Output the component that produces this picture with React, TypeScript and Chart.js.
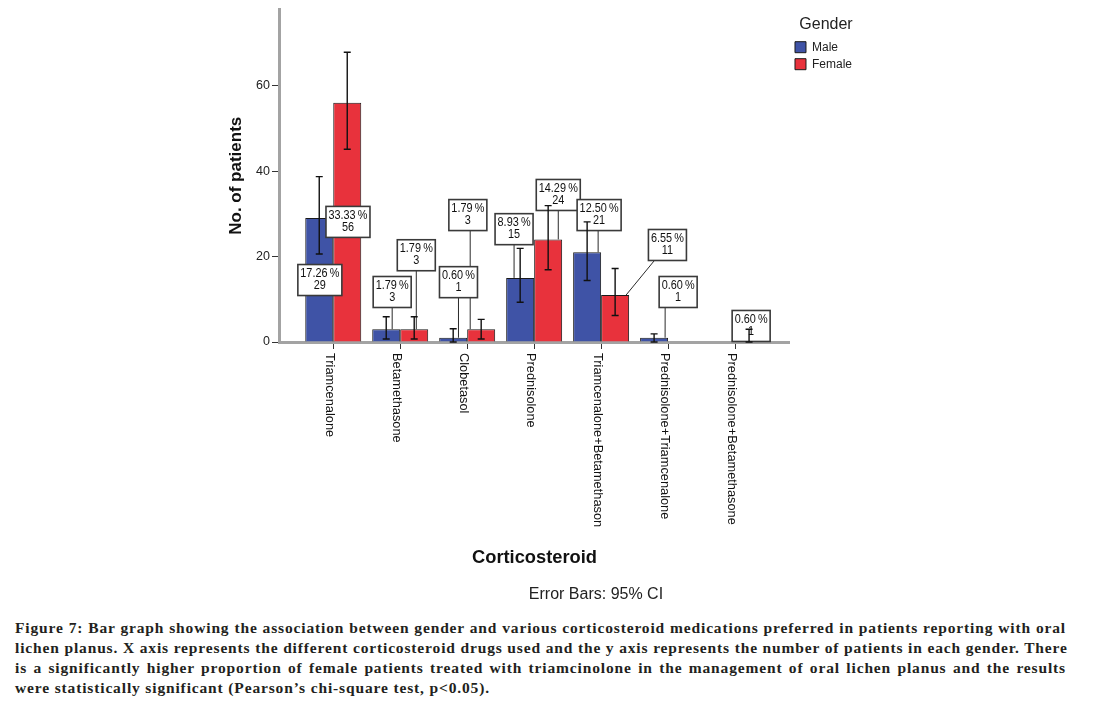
import React, { useEffect, useRef } from 'react';
import { Chart, registerables } from 'chart.js';

Chart.register(...registerables);

// ---------- data ----------
const categories = [
  'Triamcenalone',
  'Betamethasone',
  'Clobetasol',
  'Prednisolone',
  'Triamcenalone+Betamethason',
  'Prednisolone+Triamcenalone',
  'Prednisolone+Betamethasone',
];
const seriesNames = ['Male', 'Female'];
const maleCounts = [29, 3, 1, 15, 21, 1, 0];
const femaleCounts = [56, 3, 3, 24, 11, 0, 1];
// 95% CI (error bars)
const maleCILow = [20.6, 0.7, 0, 9.3, 14.4, 0, null];
const maleCIHigh = [38.7, 5.9, 3.1, 21.9, 28.1, 1.9, null];
const femaleCILow = [45.1, 0.7, 0.7, 16.9, 6.2, null, 0];
const femaleCIHigh = [67.8, 5.9, 5.3, 31.9, 17.2, null, 3.0];
const yTickValues = [0, 20, 40, 60];

// ---------- layout of the callout boxes (data units: category offset, value) ----------
const maleCalloutAt: (number[] | null)[] = [
  [-0.2, 14.5], [0.88, 11.7], [1.87, 14.0], [2.7, 26.4], [3.97, 29.7], [5.15, 11.7], null,
];
const femaleCalloutAt: (number[] | null)[] = [
  [0.22, 28.1], [1.24, 20.3], [2.01, 29.7], [3.36, 34.4], [4.99, 22.7], null, [6.24, 3.75],
];

const SANS = '"Liberation Sans", Arial, Helvetica, sans-serif';
const MALE_COLOR = '#3F53A6';
const FEMALE_COLOR = '#E8323C';

const overlayPlugin = {
  id: 'overlay',
  afterDatasetsDraw(chart: any) {
    const ctx = chart.ctx;
    const xs = chart.scales.x;
    const ys = chart.scales.y;
    const total = [...maleCounts, ...femaleCounts].reduce((a, b) => a + b, 0);
    const series = [
      { counts: maleCounts, at: maleCalloutAt, lo: maleCILow, hi: maleCIHigh, meta: chart.getDatasetMeta(0) },
      { counts: femaleCounts, at: femaleCalloutAt, lo: femaleCILow, hi: femaleCIHigh, meta: chart.getDatasetMeta(1) },
    ];
    const SX = 0.87;
    ctx.save();
    ctx.font = `12.5px ${SANS}`;
    const boxes: any[] = [];
    categories.forEach((_, i) => {
      series.forEach((s) => {
        const v = s.counts[i];
        const p = s.at[i];
        if (!p || !v) return;
        const el = s.meta.data[i];
        const pct = `${((v / total) * 100).toFixed(2)}\u2009%`;
        const cnt = String(v);
        const tw = Math.max(ctx.measureText(pct).width, ctx.measureText(cnt).width) * SX;
        const w = Math.round(tw + 5);
        const h = 31;
        const cx = xs.getPixelForValue(p[0]);
        const cy = ys.getPixelForValue(p[1]);
        boxes.push({
          pct, cnt, w, h,
          left: cx - w / 2, top: cy - h / 2, cx, cy,
          barX: el.x, barTop: el.y, barHalf: el.width / 2,
        });
      });
    });
    // leaders
    ctx.strokeStyle = '#2a2a2a';
    ctx.lineWidth = 1;
    boxes.forEach((b) => {
      const bottom = b.top + b.h;
      if (bottom >= b.barTop) return;
      const ex = Math.min(Math.max(b.cx, b.barX - b.barHalf + 3), b.barX + b.barHalf - 3);
      const sx = Math.min(Math.max(ex, b.left + 6), b.left + b.w - 6);
      ctx.beginPath();
      ctx.moveTo(sx, bottom);
      ctx.lineTo(ex, b.barTop);
      ctx.stroke();
    });
    // boxes
    boxes.forEach((b) => {
      ctx.fillStyle = '#ffffff';
      ctx.fillRect(b.left, b.top, b.w, b.h);
      ctx.strokeStyle = '#3a3a3a';
      ctx.lineWidth = 1.6;
      ctx.strokeRect(b.left, b.top, b.w, b.h);
      ctx.fillStyle = '#111111';
      ctx.textAlign = 'center';
      ctx.textBaseline = 'middle';
      [[b.pct, 9], [b.cnt, 21]].forEach(([t, dy]: any) => {
        ctx.save();
        ctx.translate(b.cx, b.top + dy);
        ctx.scale(SX, 1);
        ctx.fillText(t, 0, 0);
        ctx.restore();
      });
    });
    // error bars
    ctx.strokeStyle = '#111111';
    ctx.lineWidth = 1.4;
    series.forEach((s) => {
      s.lo.forEach((lo, i) => {
        const hi = s.hi[i];
        if (lo == null || hi == null) return;
        const el = s.meta.data[i];
        const x = el.x;
        const y1 = ys.getPixelForValue(lo);
        const y2 = ys.getPixelForValue(hi);
        ctx.beginPath();
        ctx.moveTo(x, y1);
        ctx.lineTo(x, y2);
        ctx.moveTo(x - 3.5, y1);
        ctx.lineTo(x + 3.5, y1);
        ctx.moveTo(x - 3.5, y2);
        ctx.lineTo(x + 3.5, y2);
        ctx.stroke();
      });
    });
    ctx.restore();
  },
  afterDraw(chart: any) {
    const ctx = chart.ctx;
    const xs = chart.scales.x;
    ctx.save();
    ctx.font = `12.8px ${SANS}`;
    ctx.fillStyle = '#111111';
    ctx.textAlign = 'left';
    ctx.textBaseline = 'alphabetic';
    categories.forEach((c, i) => {
      const x = xs.getPixelForValue(i);
      ctx.save();
      ctx.translate(x - 6.8, chart.chartArea.bottom + 11);
      ctx.rotate(Math.PI / 2);
      ctx.fillText(c, 0, 0);
      ctx.restore();
    });
    ctx.restore();
  },
};

export default function App() {
  const ref = useRef<HTMLCanvasElement>(null);
  useEffect(() => {
    if (!ref.current) return;
    Chart.defaults.font.family = SANS;
    const chart = new Chart(ref.current, {
      type: 'bar',
      data: {
        datasets: [
          {
            label: seriesNames[0],
            data: maleCounts.map((v, i) => ({ x: i, y: v || null })) as any,
            backgroundColor: MALE_COLOR,
            borderColor: '#1a1a1a',
            borderWidth: 1,
            categoryPercentage: 0.836,
            barPercentage: 1,
          },
          {
            label: seriesNames[1],
            data: femaleCounts.map((v, i) => ({ x: i, y: v || null })) as any,
            backgroundColor: FEMALE_COLOR,
            borderColor: '#1a1a1a',
            borderWidth: 1,
            categoryPercentage: 0.836,
            barPercentage: 1,
          },
        ],
      },
      options: {
        animation: false,
        responsive: false,
        layout: { padding: { left: 0, right: 239, top: 8, bottom: 0 } },
        plugins: {
          tooltip: { enabled: false },
          legend: {
            position: 'right',
            align: 'start',
            title: {
              display: true,
              text: 'Gender',
              color: '#222',
              font: { size: 16, family: SANS },
              padding: { top: 9, bottom: 0 },
            },
            labels: {
              boxWidth: 11,
              boxHeight: 11,
              padding: 5,
              color: '#222',
              font: { size: 12, family: SANS },
            },
          },
        },
        scales: {
          x: {
            type: 'linear',
            min: -0.81,
            max: 6.82,
            offset: false,
            grid: { offset: false, drawOnChartArea: false, drawTicks: true, tickLength: 7, color: '#333' },
            border: { color: '#a3a3a3', width: 3 },
            ticks: { display: false, stepSize: 1 },
            afterBuildTicks: (s: any) => {
              s.ticks = categories.map((_, i) => ({ value: i }));
            },
            afterFit: (s: any) => {
              s.height = 268;
            },
            title: {
              display: true,
              text: 'Corticosteroid',
              color: '#111',
              font: { size: 18.3, weight: 'bold', family: SANS },
              padding: { top: 0, bottom: 41 },
            },
          },
          y: {
            min: 0,
            max: 77.8,
            ticks: { stepSize: 20, padding: 2, color: '#222', font: { size: 12.5, family: SANS } },
            afterBuildTicks: (s: any) => {
              s.ticks = yTickValues.map((v) => ({ value: v }));
            },
            grid: { drawOnChartArea: false, drawTicks: true, tickLength: 7, color: '#333' },
            border: { color: '#a3a3a3', width: 3 },
            afterFit: (s: any) => {
              s.width = 279;
            },
            title: {
              display: true,
              text: 'No. of patients',
              color: '#111',
              font: { size: 17, weight: 'bold', family: SANS },
              padding: { top: 226, bottom: 0 },
            },
          },
        },
      } as any,
      plugins: [overlayPlugin],
    });
    return () => chart.destroy();
  }, []);

  const captionLines = [
    'Figure 7: Bar graph showing the association between gender and various corticosteroid medications preferred in patients reporting with oral',
    'lichen planus. X axis represents the different corticosteroid drugs used and the y axis represents the number of patients in each gender. There',
    'is a significantly higher proportion of female patients treated with triamcinolone in the management of oral lichen planus and the results',
    'were statistically significant (Pearson\u2019s chi-square test, p<0.05).',
  ];

  return (
    <div style={{ position: 'absolute', left: 0, top: 0, width: 1101, height: 704, background: '#fff' }}>
      <canvas
        ref={ref}
        width={1101}
        height={610}
        style={{ position: 'absolute', left: 0, top: 0, width: 1101, height: 610 }}
      />
      <div
        style={{
          position: 'absolute',
          left: 496,
          top: 585,
          width: 200,
          textAlign: 'center',
          font: `16px ${SANS}`,
          lineHeight: '18px',
          color: '#222',
        }}
      >
        Error Bars: 95% CI
      </div>
      <div
        style={{
          position: 'absolute',
          left: 15,
          top: 618,
          width: 1051,
          fontFamily: '"Liberation Serif", "Times New Roman", serif',
          fontWeight: 'bold',
          fontSize: '15.5px',
          letterSpacing: '0.85px',
          lineHeight: '20px',
          color: '#231f20',
        }}
      >
        {captionLines.map((l, i) => (
          <div
            key={i}
            style={{
              textAlign: i < captionLines.length - 1 ? 'justify' : 'left',
              textAlignLast: i < captionLines.length - 1 ? 'justify' : 'left',
              whiteSpace: 'nowrap',
            } as any}
          >
            {l}
          </div>
        ))}
      </div>
    </div>
  );
}
